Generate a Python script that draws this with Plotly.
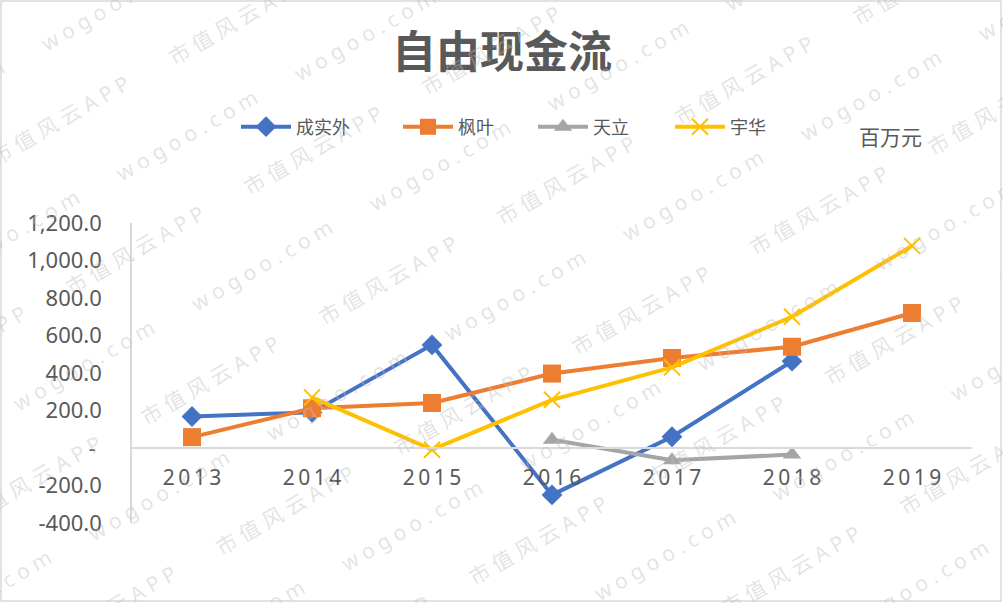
import plotly.graph_objects as go

# ---------------- data ----------------
years = ["2013", "2014", "2015", "2016", "2017", "2018", "2019"]
chengshiwai = [168, 190, 550, -250, 60, 463, None]     # 成实外
fengye = [58, 212, 240, 397, 480, 540, 720]            # 枫叶
tianli = [None, None, None, 44, -65, -35, None]         # 天立
yuhua = [None, 270, -9, 257, 430, 700, 1078]            # 宇华

y_tick_vals = [-400, -200, 0, 200, 400, 600, 800, 1000, 1200]
y_tick_text = ["-400.0", "-200.0", "-\u2008", "200.0", "400.0", "600.0",
               "800.0", "1,000.0", "1,200.0"]
x_tick_text = ["\u2009".join(list(y)) for y in years]

# ---------------- layout constants ----------------
W, H = 1003, 603
L, R, T, B = 132, 31, 223, 80
PW, PH = W - L - R, H - T - B
TXT = "#595959"
FONT = "Noto Sans, Noto Sans CJK SC, sans-serif"


def px2paper(px, py):
    return (px - L) / PW, (H - B - py) / PH


fig = go.Figure()

series = [
    ("成实外", chengshiwai, "#4472C4", dict(symbol="diamond", size=16, color="#4472C4")),
    ("枫叶", fengye, "#ED7D31", dict(symbol="square", size=18, color="#ED7D31")),
    ("天立", tianli, "#A5A5A5", dict(symbol="triangle-up", size=16, color="#A5A5A5")),
    ("宇华", yuhua, "#FFC000", dict(symbol="x-thin", size=16, color="#FFC000",
                                 line=dict(color="#FFC000", width=2))),
]
legend_ids = ["legend", "legend2", "legend3", "legend4"]
legend_x = [236, 398, 533, 670]
for (name, vals, col, mk), lid in zip(series, legend_ids):
    fig.add_trace(go.Scatter(
        x=years, y=vals, name=name, mode="lines+markers", legend=lid,
        line=dict(color=col, width=4), marker=mk, connectgaps=False,
    ))

# watermark lattice
annotations = []
base = (60, 120)
u = (178, -100)
v = (75, 130)
for i in range(-12, 16):
    for j in range(-8, 10):
        px = base[0] + i * u[0] + j * v[0]
        py = base[1] + i * u[1] + j * v[1]
        for (ox, oy, txt) in [(0, 0, "市 值 风 云 A P P"),
                              ((u[0] + v[0]) / 2, (u[1] + v[1]) / 2, "w o g o o . c o m")]:
            qx, qy = px + ox, py + oy
            if -120 < qx < W + 120 and -80 < qy < H + 80:
                xp, yp = px2paper(qx, qy)
                annotations.append(dict(
                    x=xp, y=yp, xref="paper", yref="paper", text=txt,
                    xanchor="center", yanchor="middle",
                    showarrow=False, textangle=-30,
                    font=dict(size=21, color="rgba(190,190,190,0.42)", family=FONT),
                ))

# unit label
ux, uy = px2paper(890, 137)
annotations.append(dict(x=ux, y=uy, xref="paper", yref="paper", text="百万元",
                        xanchor="center", yanchor="middle",
                        showarrow=False, font=dict(size=21, color=TXT, family=FONT)))

# outer frame
x0, y0 = px2paper(1, H - 2)
x1, y1 = px2paper(W - 2, 1)

legend_layouts = {}
for lid, lx in zip(legend_ids, legend_x):
    legend_layouts[lid] = dict(
        orientation="h", x=lx / W, xref="container", xanchor="left",
        y=1 - 127 / H, yref="container", yanchor="middle",
        font=dict(size=18, color=TXT, family=FONT),
        itemwidth=50, bgcolor="rgba(0,0,0,0)", borderwidth=0,
    )

fig.update_layout(
    width=W, height=H,
    margin=dict(l=L, r=R, t=T, b=B),
    paper_bgcolor="white", plot_bgcolor="white",
    font=dict(family=FONT, color=TXT),
    title=dict(text="<b>自由现金流</b>", x=502 / W, xref="container", xanchor="center",
               y=1 - 53 / H, yref="container", yanchor="middle",
               font=dict(size=44, color=TXT, family="Noto Sans CJK SC")),
    xaxis=dict(type="category", categoryorder="array", categoryarray=years,
               tickvals=years, ticktext=x_tick_text,
               range=[-0.5, 6.5], anchor="free", position=0.25,
               showline=True, linecolor="#D9D9D9", linewidth=2,
               showgrid=False, zeroline=False, ticks="",
               tickfont=dict(size=21, color=TXT, family=FONT),
               ticklabelstandoff=11),
    yaxis=dict(range=[-400, 1200], tickvals=y_tick_vals, ticktext=y_tick_text,
               showline=True, linecolor="#D9D9D9", linewidth=1.5,
               showgrid=False, zeroline=False, ticks="",
               tickfont=dict(size=22, color=TXT, family=FONT),
               ticklabelstandoff=24),
    annotations=annotations,
    shapes=[dict(type="rect", xref="paper", yref="paper", x0=x0, y0=y0, x1=x1, y1=y1,
                 line=dict(color="#D9D9D9", width=1.5), layer="below")],
    showlegend=True,
    **legend_layouts,
)

fig.write_html("out.html", post_script="document.body.style.margin='0';",
               config={"displayModeBar": False})
